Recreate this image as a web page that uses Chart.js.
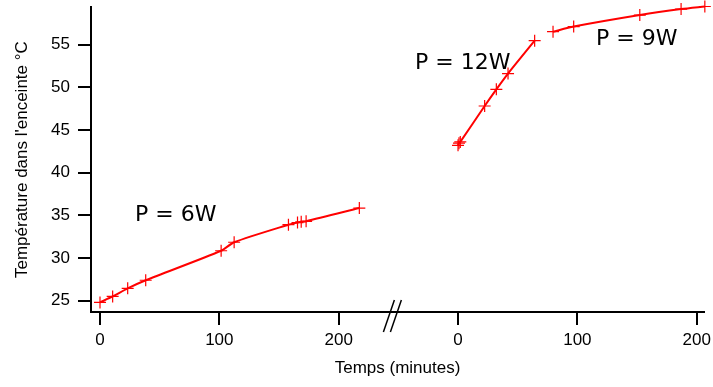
<!DOCTYPE html>
<html>
<head>
<meta charset="utf-8">
<script src="https://cdn.jsdelivr.net/npm/chart.js@4/dist/chart.umd.min.js"></script>
<style>
  html, body { margin: 0; padding: 0; background: #fff; }
</style>
</head>
<body>
<canvas id="chart" width="713" height="387" style="width:713px;height:387px"></canvas>
<script>
// P = 6W run (minutes, degC)
var time6W = [0, 10.6, 23.2, 38.3, 101.5, 112.4, 157.9, 165.5, 168.6, 172.7, 217.3];
var temp6W = [24.8, 25.5, 26.45, 27.4, 30.85, 31.85, 33.9, 34.15, 34.25, 34.3, 35.85];
// P = 12W then P = 9W, second time origin (drawn after the axis break)
var time12W = [0, 0.8, 1.9, 22.3, 32.1, 41.9, 64.2];
var temp12W = [43.2, 43.45, 43.6, 47.8, 49.75, 51.6, 55.45];
var time9W = [79.6, 96.9, 152.3, 186.9, 206.8];
var temp9W = [56.5, 57.1, 58.45, 59.15, 59.45];

var breakShift = 300; // second panel starts 300 units to the right on the shared axis
var xTicks = [0, 100, 200, 300, 400, 500];
var yTicks = [25, 30, 35, 40, 45, 50, 55];

// text labels in data coordinates
var powerLabels = [
  { text: "P = 6W", x: 29.3, y: 34.97 },
  { text: "P = 12W", x: 264, y: 52.8 },
  { text: "P = 9W", x: 415.6, y: 55.65 }
];

function toPoints(xs, ys, shift) {
  return xs.map(function (x, i) {
    return { x: x + shift, y: ys[i] };
  });
}

function serie(points) {
  return {
    data: points,
    borderColor: "#ff0000",
    backgroundColor: "#ff0000",
    borderWidth: 2,
    pointStyle: "cross",
    pointRadius: 6,
    pointBorderWidth: 1.2,
    pointBorderColor: "#ff0000",
    tension: 0.25,
    clip: false
  };
}

var tickFont = { family: "'Liberation Sans', Arial, sans-serif", size: 17 };

// labels + the // break mark on the x axis
var extras = {
  id: "extras",
  afterDraw: function (chart) {
    var ctx = chart.ctx;
    var xs = chart.scales.x, ys = chart.scales.y;
    ctx.save();
    ctx.fillStyle = "#000";
    ctx.font = "22px 'DejaVu Sans'";
    ctx.textAlign = "left";
    ctx.textBaseline = "middle";
    powerLabels.forEach(function (l) {
      ctx.fillText(l.text, xs.getPixelForValue(l.x), ys.getPixelForValue(l.y));
    });
    var bx = xs.getPixelForValue(245);
    var by = chart.chartArea.bottom + 4;
    ctx.strokeStyle = "#000";
    ctx.lineWidth = 1.5;
    [-3.5, 3.5].forEach(function (d) {
      ctx.beginPath();
      ctx.moveTo(bx + d - 5.5, by + 16);
      ctx.lineTo(bx + d + 5.5, by - 16);
      ctx.stroke();
    });
    ctx.restore();
  }
};

var chart = new Chart("chart", {
  type: "line",
  data: {
    datasets: [
      serie(toPoints(time6W, temp6W, 0)),
      serie(toPoints(time12W, temp12W, breakShift)),
      serie(toPoints(time9W, temp9W, breakShift))
    ]
  },
  options: {
    responsive: false,
    animation: false,
    devicePixelRatio: 1,
    layout: { padding: { top: 7, right: 9, bottom: 0, left: 0 } },
    plugins: {
      legend: { display: false },
      tooltip: { enabled: false }
    },
    scales: {
      x: {
        type: "linear",
        min: -7.54,
        max: 506.1,
        afterBuildTicks: function (s) {
          s.ticks = xTicks.map(function (v) { return { value: v }; });
        },
        afterFit: function (s) {
          s.height = 75;
          s.paddingLeft = 0;
          s.paddingRight = 0;
        },
        ticks: {
          autoSkip: false,
          maxRotation: 0,
          color: "#000",
          font: tickFont,
          padding: 5,
          callback: function (v) {
            return v >= breakShift ? v - breakShift : v;
          }
        },
        grid: { drawOnChartArea: false, drawTicks: true, tickLength: 13, color: "#000", lineWidth: 2 },
        border: { display: true, color: "#000", width: 2 },
        title: {
          display: true,
          text: "Temps (minutes)",
          color: "#000",
          font: tickFont,
          padding: { top: 0, bottom: 8 }
        }
      },
      y: {
        min: 23.68,
        max: 59.37,
        afterBuildTicks: function (s) {
          s.ticks = yTicks.map(function (v) { return { value: v }; });
        },
        afterFit: function (s) {
          s.width = 91;
          s.paddingTop = 0;
          s.paddingBottom = 0;
        },
        ticks: { color: "#000", font: tickFont, padding: 8 },
        grid: { drawOnChartArea: false, drawTicks: true, tickLength: 13, color: "#000", lineWidth: 2 },
        border: { display: true, color: "#000", width: 2 },
        title: {
          display: true,
          text: "Température dans l'enceinte °C",
          color: "#000",
          font: tickFont,
          padding: { top: 12, bottom: 0 }
        }
      }
    }
  },
  plugins: [extras]
});
</script>
</body>
</html>
